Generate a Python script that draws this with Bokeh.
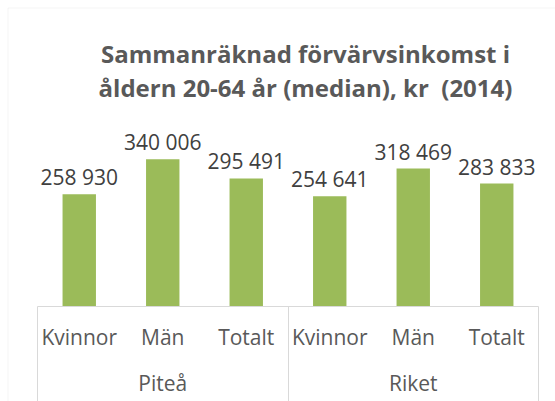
import numpy as np
from bokeh.plotting import figure
from bokeh.models import Range1d, FixedTicker, LinearAxis, Label, BoxAnnotation
from bokeh.core.properties import value
from bokeh.embed import file_html
from bokeh.resources import INLINE

# ---- data ----
groups = ["Piteå", "Riket"]
categories = ["Kvinnor", "Män", "Totalt"]
values_pitea = [258930, 340006, 295491]
values_riket = [254641, 318469, 283833]
title_lines = ["Sammanräknad förvärvsinkomst i", "åldern 20-64 år (median), kr\u00a0 (2014)"]

values = values_pitea + values_riket
cat_labels = categories * len(groups)
n = len(values)
xs = np.arange(n) + 0.5
grp_x = [len(categories) * (i + 0.5) for i in range(len(groups))]
sep_x = [len(categories) * i for i in range(len(groups) + 1)]
value_text = [f"{v:,}".replace(",", " ") for v in values]

# ---- layout ----
W, H = 555, 401
ax_left, ax_right, ax_y = 37, 538, 306
unit_px = (ax_right - ax_left) / n
val_per_px = 2308.3
FONT = "Open Sans"

p = figure(width=W, height=H, output_backend="svg", toolbar_location=None,
           x_axis_location=None, y_axis_location=None,
           x_range=Range1d(-ax_left / unit_px, (W - ax_left) / unit_px),
           y_range=Range1d(-(H - ax_y) * val_per_px, ax_y * val_per_px),
           min_border=0)
p.outline_line_color = None
p.background_fill_color = "white"
p.border_fill_color = "white"
p.grid.visible = False

p.vbar(x=xs, top=values, width=0.4, fill_color="#9BBB59", line_color=None)
p.text(x=xs, y=values, text=value_text, y_offset=-17, text_align="center",
       text_baseline="alphabetic", text_font=value(FONT), text_font_size="21px",
       text_color="#404040")

# category labels axis
ax_cat = LinearAxis(fixed_location=0, bounds=(0, n), ticker=FixedTicker(ticks=list(xs)),
                    major_label_overrides={float(x): l for x, l in zip(xs, cat_labels)})
ax_cat.axis_line_color = "#D9D9D9"
ax_cat.major_tick_line_color = None
ax_cat.minor_tick_line_color = None
ax_cat.major_tick_out = 0
ax_cat.major_tick_in = 0
ax_cat.major_label_standoff = 16
ax_cat.major_label_text_font = FONT
ax_cat.major_label_text_font_size = "21px"
ax_cat.major_label_text_color = "#595959"
p.add_layout(ax_cat, "below")

# group labels axis
ax_grp = LinearAxis(fixed_location=0, bounds=(0, n), ticker=FixedTicker(ticks=grp_x),
                    major_label_overrides={float(x): g for x, g in zip(grp_x, groups)})
ax_grp.axis_line_color = None
ax_grp.major_tick_line_color = None
ax_grp.minor_tick_line_color = None
ax_grp.major_tick_out = 0
ax_grp.major_tick_in = 0
ax_grp.major_label_standoff = 62
ax_grp.major_label_text_font = FONT
ax_grp.major_label_text_font_size = "21px"
ax_grp.major_label_text_color = "#595959"
p.add_layout(ax_grp, "below")

# group separators axis
ax_sep = LinearAxis(fixed_location=0, bounds=(0, n), ticker=FixedTicker(ticks=sep_x),
                    major_label_overrides={x: "" for x in sep_x})
ax_sep.axis_line_color = None
ax_sep.major_tick_line_color = "#D9D9D9"
ax_sep.minor_tick_line_color = None
ax_sep.major_tick_out = H - ax_y
ax_sep.major_tick_in = 0
ax_sep.major_label_text_font_size = "0px"
p.add_layout(ax_sep, "below")

# title
for i, line in enumerate(title_lines):
    p.add_layout(Label(x=305, y=H - 53.3 - 33.4 * i, x_units="screen", y_units="screen",
                       text=line, text_align="center", text_baseline="alphabetic",
                       text_font=FONT, text_font_style="bold", text_font_size="24px",
                       text_color="#595959"))

# chart area border
p.add_layout(BoxAnnotation(left=7.5, right=W + 10, bottom=-10, top=H - 7.5,
                           left_units="screen", right_units="screen",
                           bottom_units="screen", top_units="screen",
                           fill_color=None, fill_alpha=0, line_color="#D9D9D9", line_width=1))

open("out.html", "w").write(file_html(p, INLINE))
